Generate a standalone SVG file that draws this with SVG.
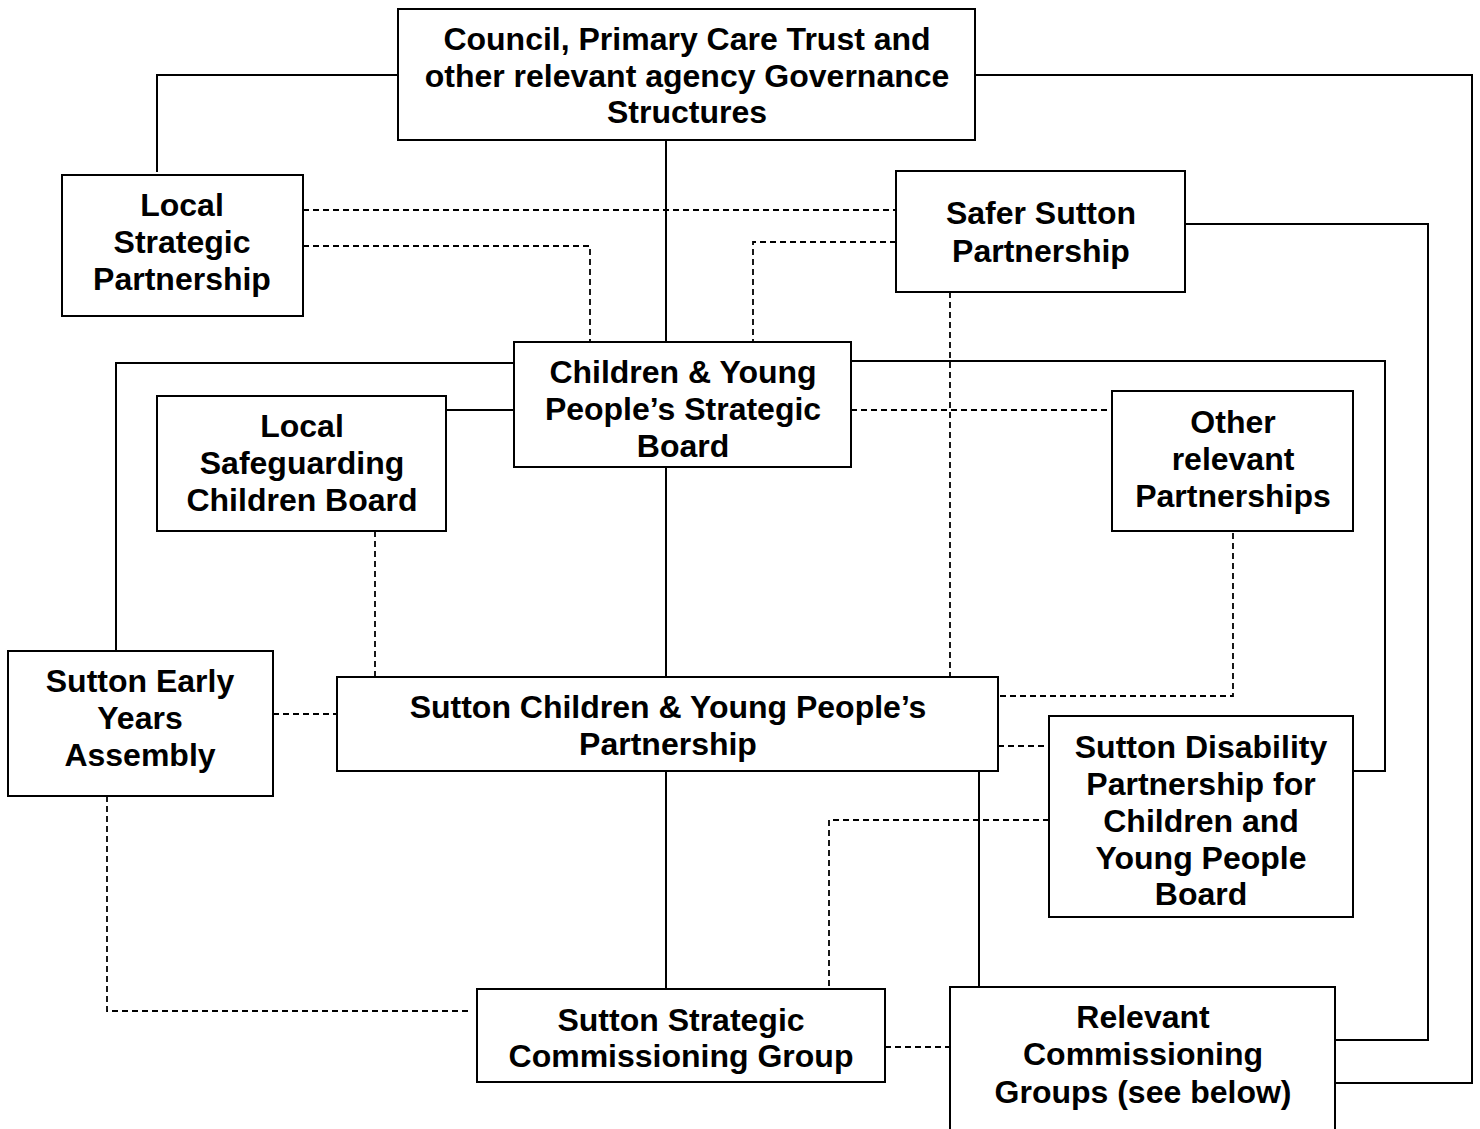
<svg xmlns="http://www.w3.org/2000/svg" width="1480" height="1129" viewBox="0 0 1480 1129">
<style>
.box{fill:#fff;stroke:#000;stroke-width:2}
.t{font-family:"Liberation Sans",Arial,sans-serif;font-weight:bold;font-size:32px;fill:#000;text-anchor:middle}
.s{fill:none;stroke:#000;stroke-width:2}
.d{fill:none;stroke:#000;stroke-width:1.8;stroke-dasharray:6 4}
</style>
<rect width="1480" height="1129" fill="#fff"/>
<g id="connectors">
<polyline class="s" points="398,75 157,75 157,172"/>
<polyline class="s" points="975,75 1472,75 1472,1083 1335,1083"/>
<polyline class="s" points="666,140 666,342"/>
<polyline class="s" points="666,467 666,677"/>
<polyline class="s" points="666,771 666,989"/>
<polyline class="s" points="1185,224 1428,224 1428,1040 1335,1040"/>
<polyline class="s" points="514,363 116,363 116,651"/>
<polyline class="s" points="446,410 514,410"/>
<polyline class="s" points="851,361 1385,361 1385,771 1353,771"/>
<polyline class="s" points="979,771 979,987"/>
<polyline class="d" points="303,210 896,210"/>
<polyline class="d" points="303,246 590,246 590,342"/>
<polyline class="d" points="896,242 753,242 753,342"/>
<polyline class="d" points="950,292 950,677"/>
<polyline class="d" points="851,410 1112,410"/>
<polyline class="d" points="375,531 375,677"/>
<polyline class="d" points="1233,533 1233,696 998,696"/>
<polyline class="d" points="273,714 337,714"/>
<polyline class="d" points="998,746 1049,746"/>
<polyline class="d" points="1049,820 829,820 829,989"/>
<polyline class="d" points="107,796 107,1011 468,1011"/>
<polyline class="d" points="885,1047 950,1047"/>
</g>
<g id="governance">
<rect class="box" x="398" y="9" width="577" height="131"/>
<text class="t" x="687" y="50">Council, Primary Care Trust and</text>
<text class="t" x="687" y="87">other relevant agency Governance</text>
<text class="t" x="687" y="123">Structures</text>
</g>
<g id="lsp">
<rect class="box" x="62" y="175" width="241" height="141"/>
<text class="t" x="182" y="216">Local</text>
<text class="t" x="182" y="253">Strategic</text>
<text class="t" x="182" y="290">Partnership</text>
</g>
<g id="safer">
<rect class="box" x="896" y="171" width="289" height="121"/>
<text class="t" x="1041" y="224">Safer Sutton</text>
<text class="t" x="1041" y="262">Partnership</text>
</g>
<g id="cypsb">
<rect class="box" x="514" y="342" width="337" height="125"/>
<text class="t" x="683" y="383">Children &amp; Young</text>
<text class="t" x="683" y="420">People’s Strategic</text>
<text class="t" x="683" y="457">Board</text>
</g>
<g id="lscb">
<rect class="box" x="157" y="396" width="289" height="135"/>
<text class="t" x="302" y="437">Local</text>
<text class="t" x="302" y="474">Safeguarding</text>
<text class="t" x="302" y="511">Children Board</text>
</g>
<g id="other">
<rect class="box" x="1112" y="391" width="241" height="140"/>
<text class="t" x="1233" y="433">Other</text>
<text class="t" x="1233" y="470">relevant</text>
<text class="t" x="1233" y="507">Partnerships</text>
</g>
<g id="seya">
<rect class="box" x="8" y="651" width="265" height="145"/>
<text class="t" x="140" y="692">Sutton Early</text>
<text class="t" x="140" y="729">Years</text>
<text class="t" x="140" y="766">Assembly</text>
</g>
<g id="scypp">
<rect class="box" x="337" y="677" width="661" height="94"/>
<text class="t" x="668" y="718">Sutton Children &amp; Young People’s</text>
<text class="t" x="668" y="755">Partnership</text>
</g>
<g id="sdp">
<rect class="box" x="1049" y="716" width="304" height="201"/>
<text class="t" x="1201" y="758">Sutton Disability</text>
<text class="t" x="1201" y="795">Partnership for</text>
<text class="t" x="1201" y="832">Children and</text>
<text class="t" x="1201" y="869">Young People</text>
<text class="t" x="1201" y="905">Board</text>
</g>
<g id="sscg">
<rect class="box" x="477" y="989" width="408" height="93"/>
<text class="t" x="681" y="1031">Sutton Strategic</text>
<text class="t" x="681" y="1067">Commissioning Group</text>
</g>
<g id="rcg">
<rect class="box" x="950" y="987" width="385" height="170"/>
<text class="t" x="1143" y="1028">Relevant</text>
<text class="t" x="1143" y="1065">Commissioning</text>
<text class="t" x="1143" y="1103">Groups (see below)</text>
</g>
</svg>
